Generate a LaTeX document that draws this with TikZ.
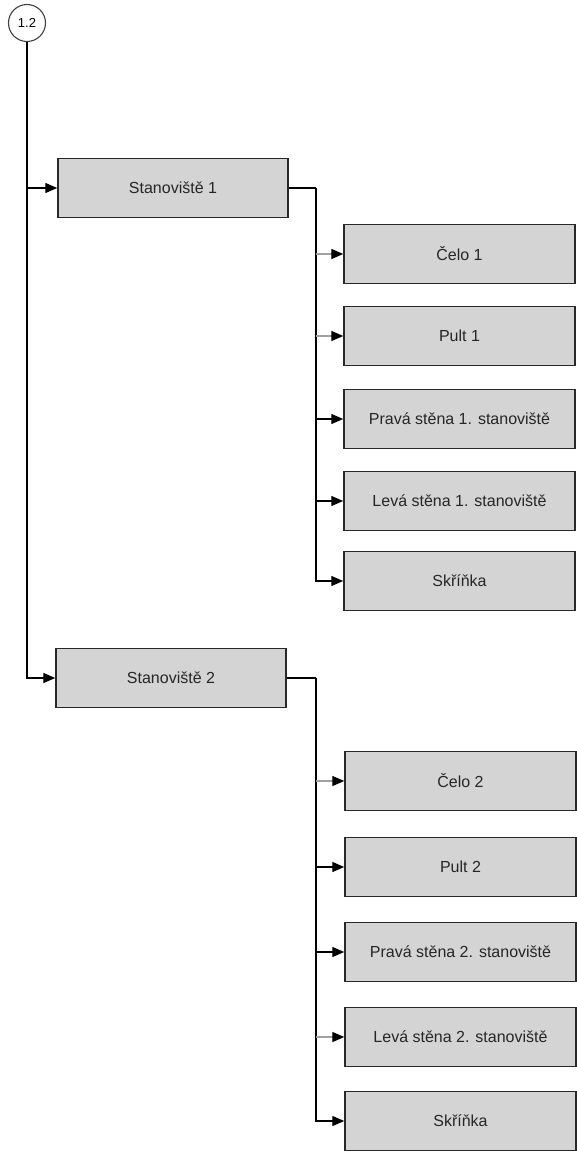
\documentclass[tikz,border=0pt]{standalone}
\usepackage{fontspec}
\setmainfont{Liberation Sans}
\usetikzlibrary{arrows.meta}
\definecolor{boxfill}{RGB}{212,212,212}
\definecolor{boxline}{RGB}{40,40,40}
\definecolor{faintline}{RGB}{160,160,160}
\tikzset{
  item/.style={draw=boxline, line width=1.5pt, fill=boxfill, rectangle,
    inner sep=0pt, minimum height=59pt, font=\fontsize{16}{18}\selectfont, text=black!85},
  topbox/.style={item, minimum width=230pt},
  subbox/.style={item, minimum width=231pt},
  link/.style={draw=black, line width=1.4pt},
  feed/.style={link, -{Triangle[length=12pt,width=10pt]}},
  feedgray/.style={feed, draw=faintline, -{Triangle[length=12pt,width=10pt,fill=black,color=black]}},
  hub/.style={draw=black!75, line width=1.1pt, circle, inner sep=0pt, minimum size=37pt,
    font=\fontsize{13}{15}\selectfont}
}
\begin{document}
\begin{tikzpicture}[x=1pt,y=-1pt]
\useasboundingbox (0,0) rectangle (576,1156);

% root marker
\node[hub] (root) at (27,23) {1.2};

% workstations
\node[topbox] (s1) at (173,188) {Stanoviště 1};
\node[topbox] (s2) at (171,678) {Stanoviště 2};

% parts of workstation 1
\node[subbox] (a1) at (459.5,254) {Čelo 1};
\node[subbox] (a2) at (459.5,336) {Pult 1};
\node[subbox] (a3) at (459.5,419) {Pravá stěna 1. stanoviště};
\node[subbox] (a4) at (459.5,501) {Levá stěna 1. stanoviště};
\node[subbox] (a5) at (459.5,581) {Skříňka};

% parts of workstation 2
\node[subbox] (b1) at (460.5,781) {Čelo 2};
\node[subbox] (b2) at (460.5,867) {Pult 2};
\node[subbox] (b3) at (460.5,952) {Pravá stěna 2. stanoviště};
\node[subbox] (b4) at (460.5,1037) {Levá stěna 2. stanoviště};
\node[subbox] (b5) at (460.5,1121) {Skříňka};

% trunk from the root
\draw[feed] (root.south) |- (s2.west);
\draw[feed] (root.south |- s1.west) -- (s1.west);

% branch of workstation 1
\coordinate (j1) at (316,188);
\draw[link] (s1.east) -- (j1);
\draw[feed] (j1) |- (a5.west);
\draw[feedgray] (j1 |- a1.west) -- (a1.west);
\draw[feedgray] (j1 |- a2.west) -- (a2.west);
\draw[feed] (j1 |- a3.west) -- (a3.west);
\draw[feed] (j1 |- a4.west) -- (a4.west);

% branch of workstation 2
\coordinate (j2) at (316,678);
\draw[link] (s2.east) -- (j2);
\draw[feed] (j2) |- (b5.west);
\draw[feedgray] (j2 |- b1.west) -- (b1.west);
\draw[feed] (j2 |- b2.west) -- (b2.west);
\draw[feed] (j2 |- b3.west) -- (b3.west);
\draw[feedgray] (j2 |- b4.west) -- (b4.west);
\end{tikzpicture}
\end{document}
